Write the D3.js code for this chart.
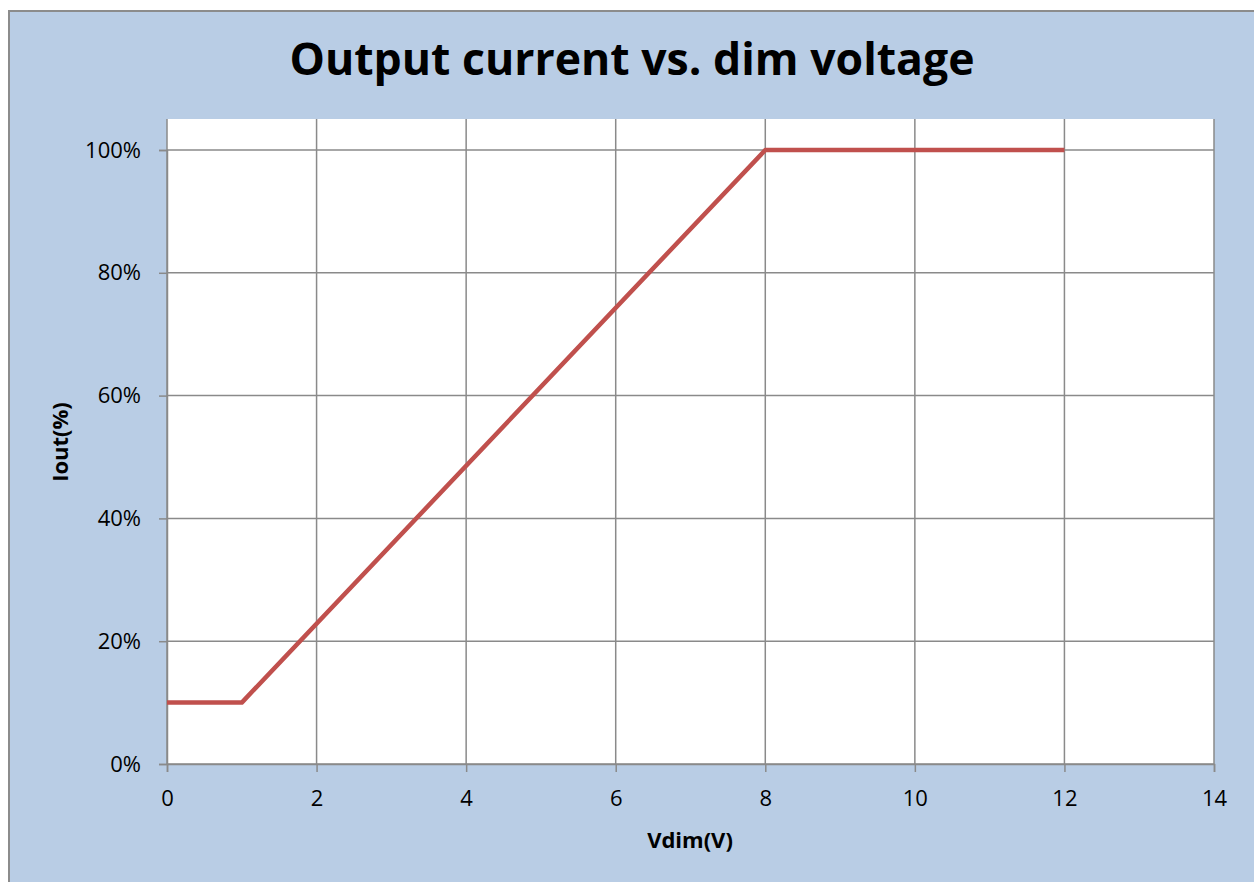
<!DOCTYPE html>
<html>
<head>
<meta charset="utf-8">
<script src="https://cdn.jsdelivr.net/npm/d3@7"></script>
<style>
  body { margin: 0; background: #fff; }
  text { font-family: "Open Sans", "Liberation Sans", sans-serif; fill: #000; }
</style>
</head>
<body>
<svg id="chart" width="1254" height="882"></svg>
<script>
// data
const vdim = [0, 1, 8, 12];
const iout = [0.10, 0.10, 1.00, 1.00];
const xTicks = [0, 2, 4, 6, 8, 10, 12, 14];
const yTicks = [0, 0.2, 0.4, 0.6, 0.8, 1.0];
const title = "Output current vs. dim voltage";

const svg = d3.select("#chart");
const plot = { left: 167, right: 1214, top: 119, bottom: 764 };

// chart area background + frame
svg.append("rect")
  .attr("x", 9).attr("y", 11)
  .attr("width", 1260).attr("height", 900)
  .attr("fill", "#b9cde5")
  .attr("stroke", "#8c8c8c")
  .attr("stroke-width", 2);

svg.append("rect")
  .attr("x", plot.left).attr("y", plot.top)
  .attr("width", plot.right - plot.left)
  .attr("height", plot.bottom - plot.top)
  .attr("fill", "#fff");

const x = d3.scaleLinear().domain([0, 14]).range([plot.left, plot.right]);
const y = d3.scaleLinear().domain([0, 1]).range([plot.bottom, 150]);

const grid = svg.append("g").attr("stroke", "#8a8a8a").attr("stroke-width", 1.5);

// vertical gridlines span the whole plot area
grid.selectAll(".vg")
  .data(xTicks)
  .join("line")
  .attr("class", "vg")
  .attr("x1", d => x(d)).attr("x2", d => x(d))
  .attr("y1", plot.top).attr("y2", plot.bottom);

grid.selectAll(".hg")
  .data(yTicks)
  .join("line")
  .attr("class", "hg")
  .attr("x1", plot.left).attr("x2", plot.right)
  .attr("y1", d => y(d)).attr("y2", d => y(d));

// axes (ticks only, labels styled like Excel)
const xAxis = svg.append("g")
  .attr("transform", `translate(0,${plot.bottom})`)
  .call(d3.axisBottom(x).tickValues(xTicks).tickSize(8).tickPadding(18).tickFormat(d3.format("d")));

const yAxis = svg.append("g")
  .attr("transform", `translate(${plot.left},0)`)
  .call(d3.axisLeft(y).tickValues(yTicks).tickSize(8).tickPadding(18).tickFormat(d3.format(".0%")));

[xAxis, yAxis].forEach(a => {
  a.attr("font-size", 22).attr("font-family", "'Open Sans', sans-serif");
  a.select(".domain").attr("stroke", "#8a8a8a").attr("stroke-width", 1.5);
  a.selectAll(".tick line").attr("stroke", "#8a8a8a").attr("stroke-width", 1.5);
  a.selectAll(".tick text").attr("fill", "#000");
});

// the series
const line = d3.line()
  .x((d, i) => x(vdim[i]))
  .y(d => y(d));

svg.append("path")
  .datum(iout)
  .attr("d", line)
  .attr("fill", "none")
  .attr("stroke", "#c0504d")
  .attr("stroke-width", 4.5)
  .attr("stroke-linejoin", "round");

// titles
svg.append("text")
  .attr("x", 632).attr("y", 75)
  .attr("text-anchor", "middle")
  .attr("font-family", "Lato, sans-serif")
  .attr("font-weight", "bold")
  .attr("font-size", 45)
  .attr("textLength", 685)
  .attr("lengthAdjust", "spacingAndGlyphs")
  .text(title);

svg.append("text")
  .attr("x", 690).attr("y", 848)
  .attr("text-anchor", "middle")
  .attr("font-weight", "bold")
  .attr("font-size", 22)
  .text("Vdim(V)");

svg.append("text")
  .attr("transform", "translate(68,442) rotate(-90)")
  .attr("text-anchor", "middle")
  .attr("font-weight", "bold")
  .attr("font-size", 22)
  .text("Iout(%)");
</script>
</body>
</html>
